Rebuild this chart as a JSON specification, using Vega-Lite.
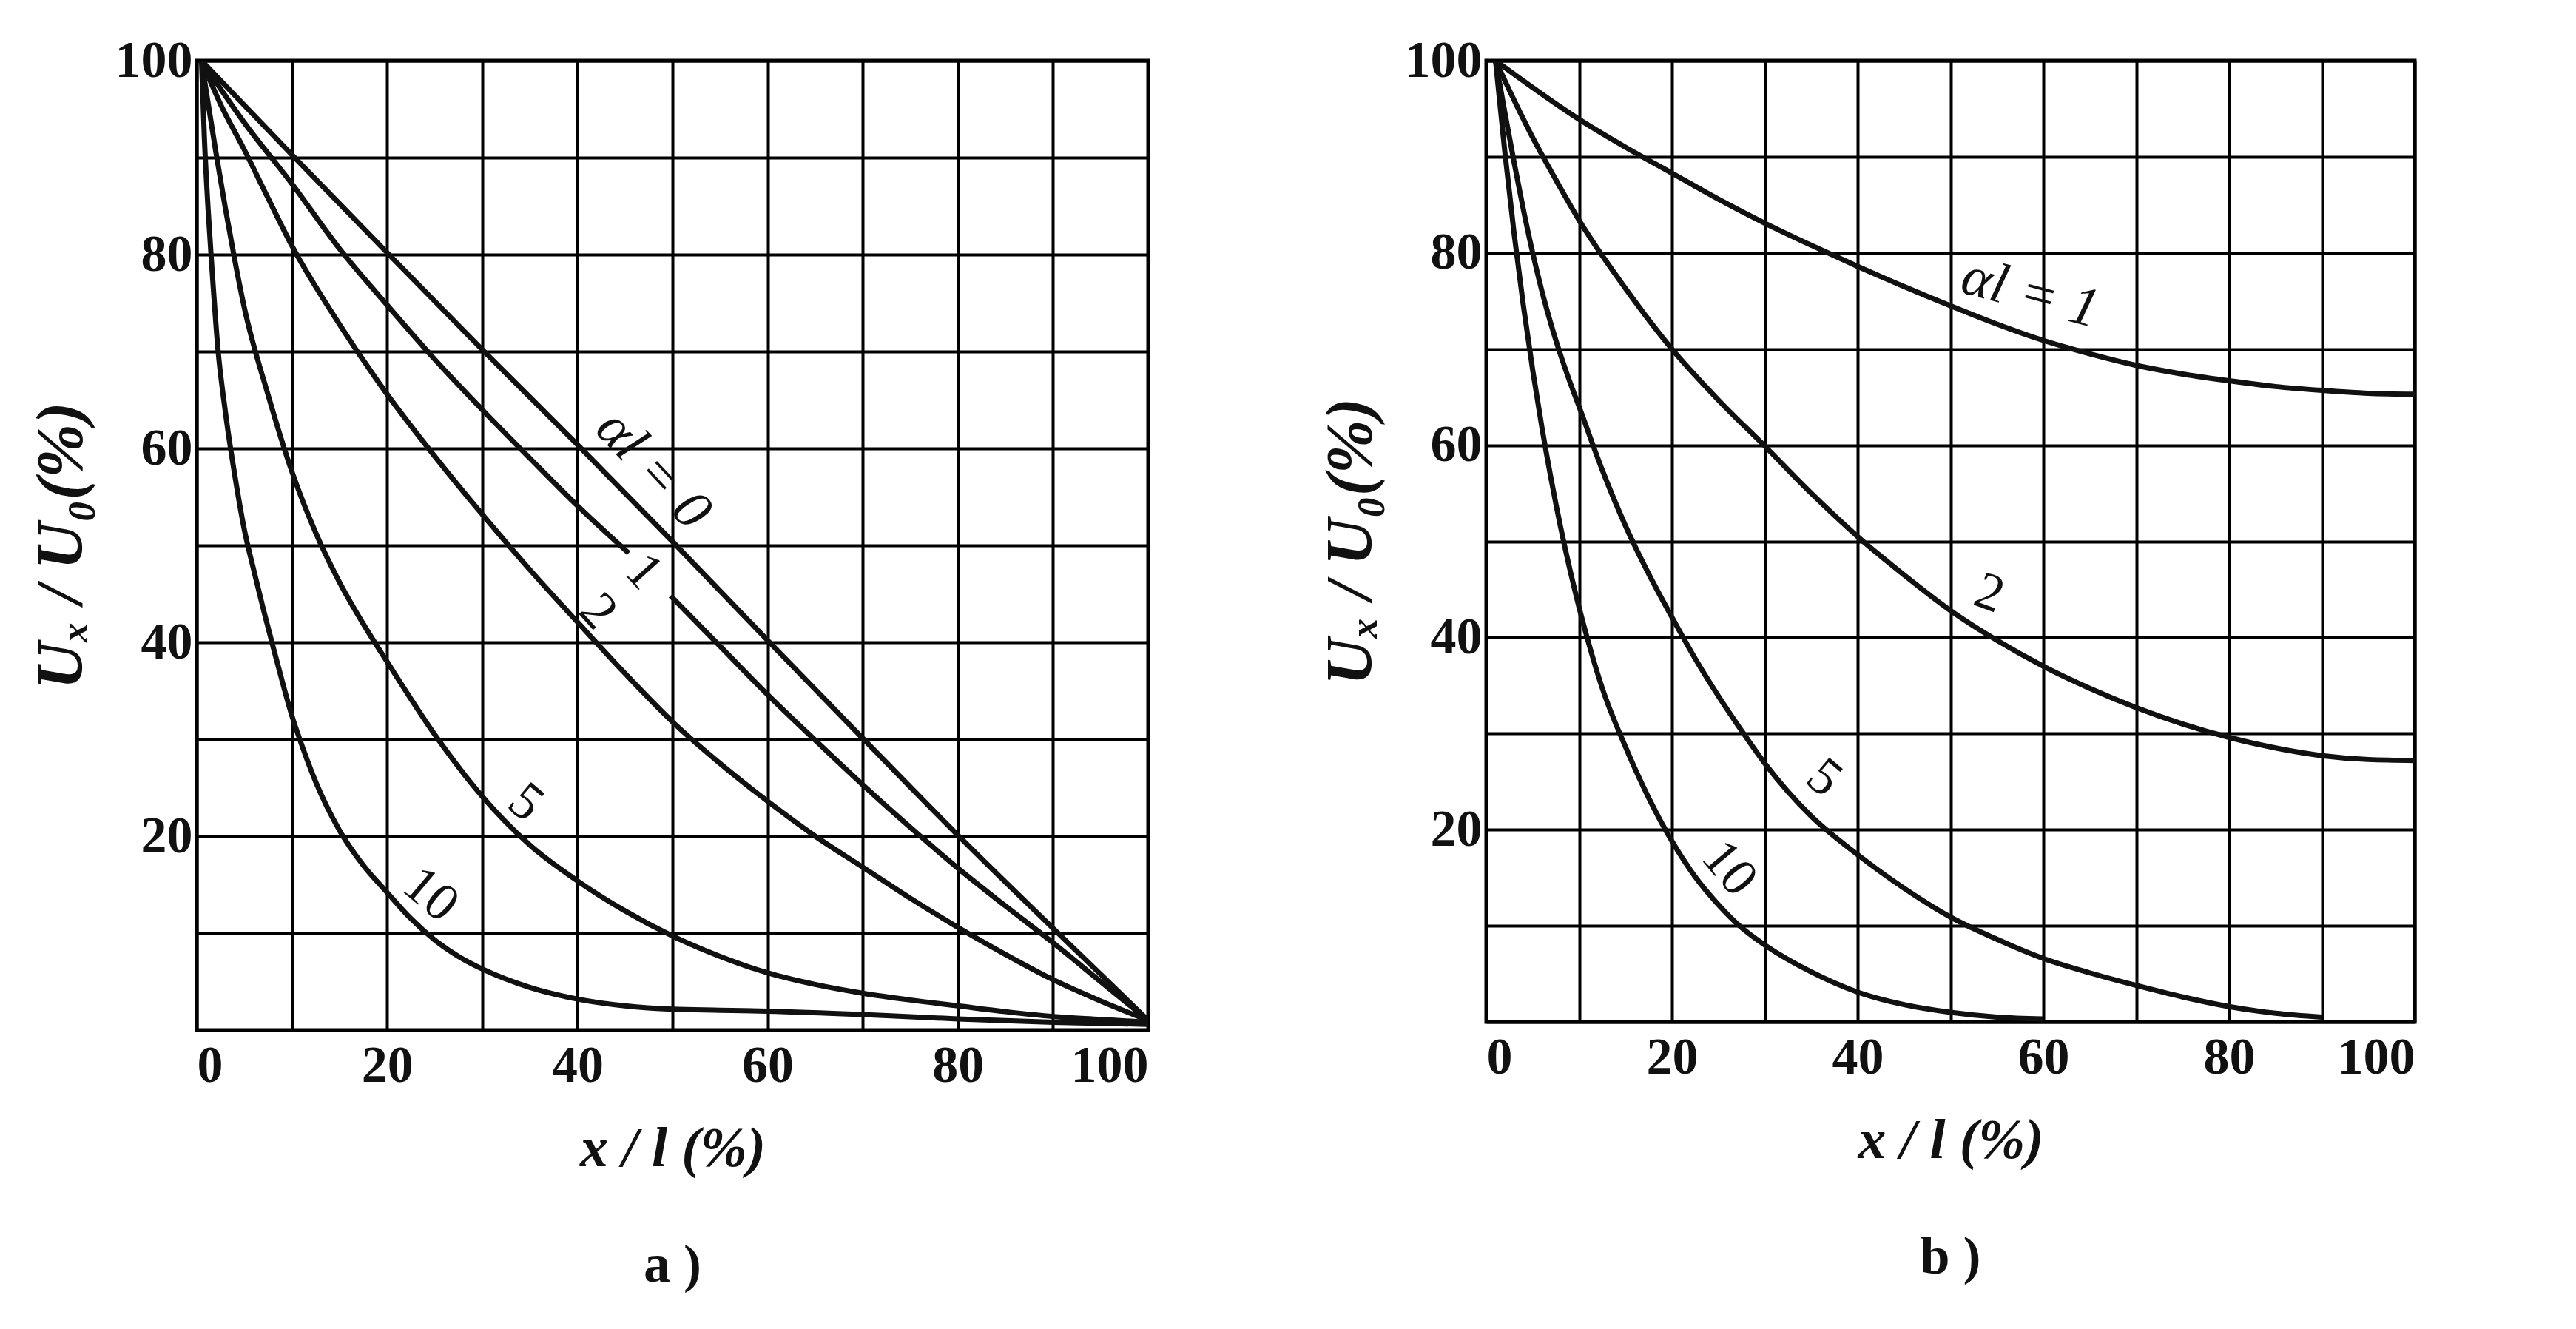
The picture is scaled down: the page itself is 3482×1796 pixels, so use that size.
{
  "$schema": "https://vega.github.io/schema/vega-lite/v6.json",
  "background": "white",
  "padding": {"left": 36, "top": 44, "right": 20, "bottom": 20},
  "datasets": {
    "panelA": [
      {"series": "0", "x": 0.5, "y": 100}, {"series": "0", "x": 10, "y": 90.3}, {"series": "0", "x": 20, "y": 80.2}, {"series": "0", "x": 30, "y": 70.2}, {"series": "0", "x": 40, "y": 60.4}, {"series": "0", "x": 50, "y": 50.4}, {"series": "0", "x": 60, "y": 40.2}, {"series": "0", "x": 70, "y": 30.1}, {"series": "0", "x": 80, "y": 20.1}, {"series": "0", "x": 90, "y": 10.5}, {"series": "0", "x": 100, "y": 1},
      {"series": "1a", "x": 0.5, "y": 100}, {"series": "1a", "x": 5, "y": 93.6}, {"series": "1a", "x": 10, "y": 87.3}, {"series": "1a", "x": 15, "y": 80.6}, {"series": "1a", "x": 20, "y": 74.8}, {"series": "1a", "x": 25, "y": 69.2}, {"series": "1a", "x": 30, "y": 64}, {"series": "1a", "x": 35, "y": 59}, {"series": "1a", "x": 40, "y": 54.1}, {"series": "1a", "x": 45.4, "y": 49.2},
      {"series": "1b", "x": 49.8, "y": 44.8}, {"series": "1b", "x": 55, "y": 39.6}, {"series": "1b", "x": 60, "y": 34.6}, {"series": "1b", "x": 65, "y": 29.9}, {"series": "1b", "x": 70, "y": 25.3}, {"series": "1b", "x": 75, "y": 20.9}, {"series": "1b", "x": 80, "y": 16.7}, {"series": "1b", "x": 85, "y": 12.8}, {"series": "1b", "x": 90, "y": 9}, {"series": "1b", "x": 95, "y": 5}, {"series": "1b", "x": 100, "y": 1},
      {"series": "2", "x": 0.5, "y": 100}, {"series": "2", "x": 2.5, "y": 95.5}, {"series": "2", "x": 5, "y": 90.8}, {"series": "2", "x": 7.5, "y": 85.8}, {"series": "2", "x": 10, "y": 80.9}, {"series": "2", "x": 15, "y": 72.8}, {"series": "2", "x": 20, "y": 65.6}, {"series": "2", "x": 25, "y": 59.2}, {"series": "2", "x": 30, "y": 53.2}, {"series": "2", "x": 35, "y": 47.5}, {"series": "2", "x": 40, "y": 42.1}, {"series": "2", "x": 45, "y": 36.8}, {"series": "2", "x": 50, "y": 31.8}, {"series": "2", "x": 55, "y": 27.5}, {"series": "2", "x": 60, "y": 23.6}, {"series": "2", "x": 65, "y": 20}, {"series": "2", "x": 70, "y": 16.8}, {"series": "2", "x": 75, "y": 13.6}, {"series": "2", "x": 80, "y": 10.6}, {"series": "2", "x": 85, "y": 7.8}, {"series": "2", "x": 90, "y": 5.2}, {"series": "2", "x": 95, "y": 3}, {"series": "2", "x": 100, "y": 1},
      {"series": "5", "x": 0.5, "y": 100}, {"series": "5", "x": 1, "y": 96.8}, {"series": "5", "x": 2, "y": 90.6}, {"series": "5", "x": 3, "y": 84.8}, {"series": "5", "x": 4, "y": 79.4}, {"series": "5", "x": 5, "y": 74.5}, {"series": "5", "x": 7.5, "y": 65.5}, {"series": "5", "x": 10, "y": 57.6}, {"series": "5", "x": 12.5, "y": 51.3}, {"series": "5", "x": 15, "y": 46.2}, {"series": "5", "x": 17.5, "y": 41.9}, {"series": "5", "x": 20, "y": 38}, {"series": "5", "x": 25, "y": 30.5}, {"series": "5", "x": 30, "y": 24.1}, {"series": "5", "x": 35, "y": 19.1}, {"series": "5", "x": 40, "y": 15.4}, {"series": "5", "x": 45, "y": 12.3}, {"series": "5", "x": 50, "y": 9.7}, {"series": "5", "x": 55, "y": 7.6}, {"series": "5", "x": 60, "y": 5.9}, {"series": "5", "x": 65, "y": 4.7}, {"series": "5", "x": 70, "y": 3.8}, {"series": "5", "x": 75, "y": 3.1}, {"series": "5", "x": 80, "y": 2.5}, {"series": "5", "x": 85, "y": 1.9}, {"series": "5", "x": 90, "y": 1.4}, {"series": "5", "x": 95, "y": 1.1}, {"series": "5", "x": 100, "y": 0.8},
      {"series": "10", "x": 0.5, "y": 100}, {"series": "10", "x": 0.8, "y": 92}, {"series": "10", "x": 1.2, "y": 84.5}, {"series": "10", "x": 1.6, "y": 78.5}, {"series": "10", "x": 2.2, "y": 70.5}, {"series": "10", "x": 3, "y": 63.8}, {"series": "10", "x": 4, "y": 57.2}, {"series": "10", "x": 5, "y": 51.6}, {"series": "10", "x": 6, "y": 47.4}, {"series": "10", "x": 7, "y": 43.4}, {"series": "10", "x": 8, "y": 39.6}, {"series": "10", "x": 9, "y": 35.9}, {"series": "10", "x": 10, "y": 32.4}, {"series": "10", "x": 11, "y": 29.5}, {"series": "10", "x": 12.5, "y": 25.6}, {"series": "10", "x": 15, "y": 20.6}, {"series": "10", "x": 17.5, "y": 17}, {"series": "10", "x": 20, "y": 14.2}, {"series": "10", "x": 22.5, "y": 11.5}, {"series": "10", "x": 25, "y": 9.3}, {"series": "10", "x": 27.5, "y": 7.6}, {"series": "10", "x": 30, "y": 6.3}, {"series": "10", "x": 35, "y": 4.4}, {"series": "10", "x": 40, "y": 3.2}, {"series": "10", "x": 45, "y": 2.5}, {"series": "10", "x": 50, "y": 2.15}, {"series": "10", "x": 55, "y": 2.05}, {"series": "10", "x": 60, "y": 1.95}, {"series": "10", "x": 70, "y": 1.6}, {"series": "10", "x": 80, "y": 1.15}, {"series": "10", "x": 90, "y": 0.8}, {"series": "10", "x": 100, "y": 0.6}
    ],
    "panelB": [
      {"series": "1", "x": 1, "y": 100}, {"series": "1", "x": 10, "y": 93.9}, {"series": "1", "x": 15, "y": 91}, {"series": "1", "x": 20, "y": 88.3}, {"series": "1", "x": 25, "y": 85.6}, {"series": "1", "x": 30, "y": 83.1}, {"series": "1", "x": 35, "y": 80.8}, {"series": "1", "x": 40, "y": 78.6}, {"series": "1", "x": 45, "y": 76.5}, {"series": "1", "x": 50, "y": 74.5}, {"series": "1", "x": 55, "y": 72.6}, {"series": "1", "x": 60, "y": 70.9}, {"series": "1", "x": 65, "y": 69.5}, {"series": "1", "x": 70, "y": 68.3}, {"series": "1", "x": 75, "y": 67.4}, {"series": "1", "x": 80, "y": 66.7}, {"series": "1", "x": 85, "y": 66.1}, {"series": "1", "x": 90, "y": 65.7}, {"series": "1", "x": 95, "y": 65.4}, {"series": "1", "x": 100, "y": 65.3},
      {"series": "2", "x": 1, "y": 100}, {"series": "2", "x": 2.5, "y": 96.9}, {"series": "2", "x": 5, "y": 92}, {"series": "2", "x": 7.5, "y": 87.6}, {"series": "2", "x": 10, "y": 83.4}, {"series": "2", "x": 15, "y": 76.3}, {"series": "2", "x": 20, "y": 70}, {"series": "2", "x": 25, "y": 64.7}, {"series": "2", "x": 30, "y": 59.9}, {"series": "2", "x": 35, "y": 55}, {"series": "2", "x": 40, "y": 50.5}, {"series": "2", "x": 45, "y": 46.5}, {"series": "2", "x": 50, "y": 42.8}, {"series": "2", "x": 55, "y": 39.7}, {"series": "2", "x": 60, "y": 37}, {"series": "2", "x": 65, "y": 34.7}, {"series": "2", "x": 70, "y": 32.7}, {"series": "2", "x": 75, "y": 31}, {"series": "2", "x": 80, "y": 29.6}, {"series": "2", "x": 85, "y": 28.5}, {"series": "2", "x": 90, "y": 27.7}, {"series": "2", "x": 95, "y": 27.3}, {"series": "2", "x": 100, "y": 27.2},
      {"series": "5", "x": 1, "y": 100}, {"series": "5", "x": 2, "y": 94.6}, {"series": "5", "x": 3, "y": 89.4}, {"series": "5", "x": 4, "y": 84.5}, {"series": "5", "x": 5, "y": 80}, {"series": "5", "x": 6, "y": 76}, {"series": "5", "x": 7, "y": 72.5}, {"series": "5", "x": 8, "y": 69.4}, {"series": "5", "x": 9, "y": 66.6}, {"series": "5", "x": 10, "y": 64}, {"series": "5", "x": 12.5, "y": 57.4}, {"series": "5", "x": 15, "y": 51.6}, {"series": "5", "x": 17.5, "y": 46.6}, {"series": "5", "x": 20, "y": 42.1}, {"series": "5", "x": 22.5, "y": 37.8}, {"series": "5", "x": 25, "y": 33.9}, {"series": "5", "x": 27.5, "y": 30.3}, {"series": "5", "x": 30, "y": 26.9}, {"series": "5", "x": 35, "y": 21.4}, {"series": "5", "x": 40, "y": 17.4}, {"series": "5", "x": 45, "y": 13.9}, {"series": "5", "x": 50, "y": 10.9}, {"series": "5", "x": 55, "y": 8.6}, {"series": "5", "x": 60, "y": 6.6}, {"series": "5", "x": 65, "y": 5.1}, {"series": "5", "x": 70, "y": 3.8}, {"series": "5", "x": 75, "y": 2.6}, {"series": "5", "x": 80, "y": 1.6}, {"series": "5", "x": 85, "y": 0.9}, {"series": "5", "x": 90, "y": 0.5},
      {"series": "10", "x": 1, "y": 100}, {"series": "10", "x": 2, "y": 90.5}, {"series": "10", "x": 3, "y": 82}, {"series": "10", "x": 4, "y": 74.5}, {"series": "10", "x": 5, "y": 67.8}, {"series": "10", "x": 6, "y": 61.8}, {"series": "10", "x": 7, "y": 56.4}, {"series": "10", "x": 8, "y": 51.5}, {"series": "10", "x": 9, "y": 47.1}, {"series": "10", "x": 10, "y": 43.1}, {"series": "10", "x": 11, "y": 39.5}, {"series": "10", "x": 12.5, "y": 34.7}, {"series": "10", "x": 15, "y": 28.6}, {"series": "10", "x": 17.5, "y": 23.3}, {"series": "10", "x": 20, "y": 18.8}, {"series": "10", "x": 22.5, "y": 15.1}, {"series": "10", "x": 25, "y": 12.2}, {"series": "10", "x": 27.5, "y": 9.8}, {"series": "10", "x": 30, "y": 8}, {"series": "10", "x": 35, "y": 5.2}, {"series": "10", "x": 40, "y": 3.1}, {"series": "10", "x": 45, "y": 1.8}, {"series": "10", "x": 50, "y": 1}, {"series": "10", "x": 55, "y": 0.5}, {"series": "10", "x": 60, "y": 0.3}
    ]
  },
  "config": {
    "font": "Liberation Serif",
    "view": {"stroke": "black", "strokeWidth": 5},
    "axis": {
      "grid": true, "gridColor": "black", "gridWidth": 4, "gridOpacity": 1,
      "ticks": false, "domain": false,
      "labelFont": "Liberation Serif", "labelFontSize": 70, "labelFontWeight": "bold", "labelColor": "#111",
      "titleFont": "Liberation Serif", "titleFontSize": 76, "titleColor": "#111",
      "titleFontStyle": "italic", "titleFontWeight": "bold"
    },
    "title": {"font": "Liberation Serif", "fontSize": 72, "fontWeight": "bold", "color": "#111"}
  },
  "hconcat": [
    {
      "width": 1286, "height": 1310,
      "title": {"text": "a )", "orient": "bottom", "offset": 85},
      "layer": [
        {
          "data": {"name": "panelA"},
          "mark": {"type": "line", "color": "#111", "strokeWidth": 7, "interpolate": "monotone", "clip": true},
          "encoding": {
            "x": {"field": "x", "type": "quantitative", "scale": {"domain": [0, 100], "nice": false},
              "axis": {"values": [0,10,20,30,40,50,60,70,80,90,100], "labelExpr": "datum.value % 20 === 0 ? datum.label : ''", "labelPadding": 14, "title": "x / l  (%)", "titlePadding": 40}},
            "y": {"field": "y", "type": "quantitative", "scale": {"domain": [0, 100], "nice": false},
              "axis": {"values": [0,10,20,30,40,50,60,70,80,90,100], "labelExpr": "datum.value % 20 === 0 && datum.value > 0 ? datum.label : ''", "labelPadding": 6, "title": "Uₓ / U₀(%)", "titlePadding": 28, "titleFontSize": 88}},
            "detail": {"field": "series"}
          }
        },
        {
          "data": {"values": [{"x": 48, "y": 57.8, "t": "αl = 0"}]},
          "mark": {"type": "text", "angle": 47, "fontSize": 76, "fontStyle": "italic", "align": "center", "baseline": "middle", "color": "#111"},
          "encoding": {"x": {"field": "x", "type": "quantitative"}, "y": {"field": "y", "type": "quantitative"}, "text": {"field": "t"}}
        },
        {
          "data": {"values": [{"x": 47, "y": 47.3, "t": "1"}, {"x": 42.2, "y": 43.2, "t": "2"}]},
          "mark": {"type": "text", "angle": 48, "fontSize": 72, "align": "center", "baseline": "middle", "color": "#111"},
          "encoding": {"x": {"field": "x", "type": "quantitative"}, "y": {"field": "y", "type": "quantitative"}, "text": {"field": "t"}}
        },
        {
          "data": {"values": [{"x": 34.6, "y": 23.5, "t": "5"}, {"x": 24.6, "y": 14, "t": "10"}]},
          "mark": {"type": "text", "angle": 40, "fontSize": 72, "align": "center", "baseline": "middle", "color": "#111"},
          "encoding": {"x": {"field": "x", "type": "quantitative"}, "y": {"field": "y", "type": "quantitative"}, "text": {"field": "t"}}
        }
      ]
    },
    {
      "width": 1255, "height": 1299,
      "title": {"text": "b )", "orient": "bottom", "offset": 85},
      "layer": [
        {
          "data": {"name": "panelB"},
          "mark": {"type": "line", "color": "#111", "strokeWidth": 7, "interpolate": "monotone", "clip": true},
          "encoding": {
            "x": {"field": "x", "type": "quantitative", "scale": {"domain": [0, 100], "nice": false},
              "axis": {"values": [0,10,20,30,40,50,60,70,80,90,100], "labelExpr": "datum.value % 20 === 0 ? datum.label : ''", "labelPadding": 14, "title": "x / l  (%)", "titlePadding": 40}},
            "y": {"field": "y", "type": "quantitative", "scale": {"domain": [0, 100], "nice": false},
              "axis": {"values": [0,10,20,30,40,50,60,70,80,90,100], "labelExpr": "datum.value % 20 === 0 && datum.value > 0 ? datum.label : ''", "labelPadding": 6, "title": "Uₓ / U₀(%)", "titlePadding": 28, "titleFontSize": 88}},
            "detail": {"field": "series"}
          }
        },
        {
          "data": {"values": [{"x": 58.6, "y": 75.8, "t": "αl = 1"}]},
          "mark": {"type": "text", "angle": 15, "fontSize": 76, "fontStyle": "italic", "align": "center", "baseline": "middle", "color": "#111"},
          "encoding": {"x": {"field": "x", "type": "quantitative"}, "y": {"field": "y", "type": "quantitative"}, "text": {"field": "t"}}
        },
        {
          "data": {"values": [{"x": 54.2, "y": 44.6, "t": "2"}]},
          "mark": {"type": "text", "angle": 20, "fontSize": 72, "align": "center", "baseline": "middle", "color": "#111"},
          "encoding": {"x": {"field": "x", "type": "quantitative"}, "y": {"field": "y", "type": "quantitative"}, "text": {"field": "t"}}
        },
        {
          "data": {"values": [{"x": 36.4, "y": 25.4, "t": "5"}]},
          "mark": {"type": "text", "angle": 40, "fontSize": 72, "align": "center", "baseline": "middle", "color": "#111"},
          "encoding": {"x": {"field": "x", "type": "quantitative"}, "y": {"field": "y", "type": "quantitative"}, "text": {"field": "t"}}
        },
        {
          "data": {"values": [{"x": 26.2, "y": 16, "t": "10"}]},
          "mark": {"type": "text", "angle": 50, "fontSize": 72, "align": "center", "baseline": "middle", "color": "#111"},
          "encoding": {"x": {"field": "x", "type": "quantitative"}, "y": {"field": "y", "type": "quantitative"}, "text": {"field": "t"}}
        }
      ]
    }
  ],
  "spacing": 224
}
